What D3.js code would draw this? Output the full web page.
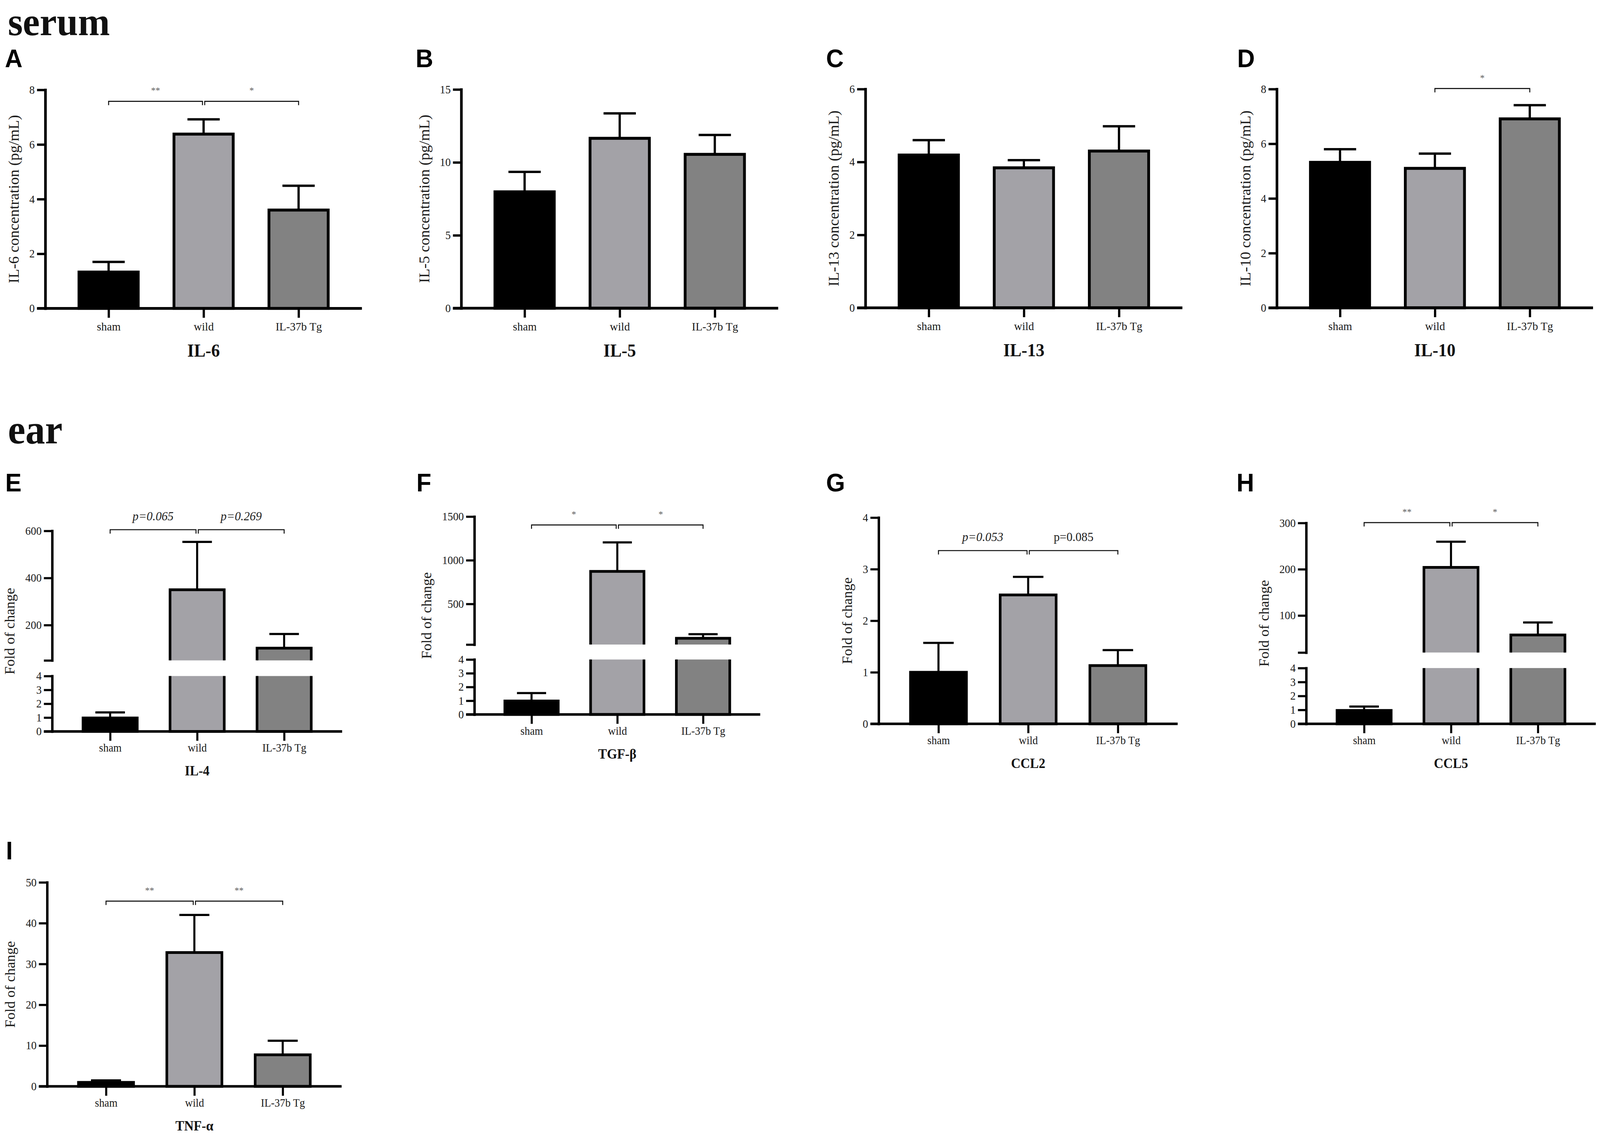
<!DOCTYPE html>
<html>
<head>
<meta charset="utf-8">
<script src="https://cdn.jsdelivr.net/npm/d3@7"></script>
<style>
  html, body { margin: 0; padding: 0; background: #fff; overflow: hidden; }
  svg { display: block; width: 100vw; height: 100vh; font-family: "Liberation Serif", "Times New Roman", serif; }
</style>
</head>
<body>
<div id="fig"></div>
<script>
// groups, same for every panel
const GROUPS = ["sham", "wild", "IL-37b Tg"];

// serum cytokines (pg/mL), mean and SEM
const IL6_MEAN = [1.33, 6.38, 3.60];
const IL6_SEM = [0.37, 0.54, 0.89];
const IL5_MEAN = [7.98, 11.65, 10.55];
const IL5_SEM = [1.37, 1.71, 1.33];
const IL13_MEAN = [4.19, 3.84, 4.30];
const IL13_SEM = [0.41, 0.21, 0.68];
const IL10_MEAN = [5.32, 5.10, 6.91];
const IL10_SEM = [0.48, 0.54, 0.50];

// ear, fold of change
const IL4_MEAN = [0.97, 350, 102];
const IL4_SEM = [0.40, 203, 60];
const TGFB_MEAN = [0.98, 872, 107];
const TGFB_SEM = [0.58, 332, 46];
const CCL2_MEAN = [1.0, 2.50, 1.13];
const CCL2_SEM = [0.57, 0.35, 0.30];
const CCL5_MEAN = [0.96, 204, 58];
const CCL5_SEM = [0.28, 55.5, 27];
const TNFA_MEAN = [0.98, 32.8, 7.74];
const TNFA_SEM = [0.49, 9.2, 3.44];

// tick values (upper segment / lower segment for broken axes)
const IL6_TICKS = [0, 2, 4, 6, 8];
const IL5_TICKS = [0, 5, 10, 15];
const IL13_TICKS = [0, 2, 4, 6];
const IL10_TICKS = [0, 2, 4, 6, 8];
const IL4_TICKS = [200, 400, 600];
const TGFB_TICKS = [500, 1000, 1500];
const CCL2_TICKS = [0, 1, 2, 3, 4];
const CCL5_TICKS = [100, 200, 300];
const TNFA_TICKS = [0, 10, 20, 30, 40, 50];
const LOW_TICKS = [0, 1, 2, 3, 4];

// significance brackets: [from group, to group, label, height in data units]
const IL6_SIG = [[0, 1, "**", 7.58], [1, 2, "*", 7.58]];
const IL10_SIG = [[1, 2, "*", 8.02]];
const IL4_SIG = [[0, 1, "p=0.065", 605], [1, 2, "p=0.269", 605]];
const TGFB_SIG = [[0, 1, "*", 1404], [1, 2, "*", 1404]];
const CCL2_SIG = [[0, 1, "p=0.053", 3.36], [1, 2, "p=0.085", 3.36]];
const CCL5_SIG = [[0, 1, "**", 300.8], [1, 2, "*", 300.8]];
const TNFA_SIG = [[0, 1, "**", 45.4], [1, 2, "**", 45.4]];
const ITALIC_LABELS = ["p=0.065", "p=0.269", "p=0.053"];

const FILLS = ["#000000", "#a3a2a7", "#828282"];

// page layout
const W = 4265, H = 2903;
const ROW_STYLE = {
  1: {tick: 29, cat: 30, ytitle: 39, title: 46, catDy: 57, titleDy: 124, axisW: 7, barSW: 7.5},
  2: {tick: 29, cat: 28.5, ytitle: 37, title: 35, catDy: 52, titleDy: 113, axisW: 6.5, barSW: 7}
};

const PANELS = [
  {id: "A", name: "IL-6", ylab: "IL-6 concentration (pg/mL)", mean: IL6_MEAN, sem: IL6_SEM, ticks: IL6_TICKS, sig: IL6_SIG,
   lay: {row: 1, ox: 120.7, top: 230, zero: 789.5, len: 844, lx: 13, ly: 172}},
  {id: "B", name: "IL-5", ylab: "IL-5 concentration (pg/mL)", mean: IL5_MEAN, sem: IL5_SEM, ticks: IL5_TICKS, sig: [],
   lay: {row: 1, ox: 1229.4, top: 229, zero: 789, len: 845, lx: 1108, ly: 172}},
  {id: "C", name: "IL-13", ylab: "IL-13 concentration (pg/mL)", mean: IL13_MEAN, sem: IL13_SEM, ticks: IL13_TICKS, sig: [],
   lay: {row: 1, ox: 2306.8, top: 228, zero: 788, len: 845, lx: 2202, ly: 172}},
  {id: "D", name: "IL-10", ylab: "IL-10 concentration (pg/mL)", mean: IL10_MEAN, sem: IL10_SEM, ticks: IL10_TICKS, sig: IL10_SIG,
   lay: {row: 1, ox: 3403.4, top: 228, zero: 788, len: 843, lx: 3298, ly: 172}},
  {id: "E", name: "IL-4", ylab: "Fold of change", mean: IL4_MEAN, sem: IL4_SEM, ticks: IL4_TICKS, low: LOW_TICKS, sig: IL4_SIG,
   lay: {row: 2, ox: 139, top: 1359, zero: 1872.4, len: 773, lx: 14, ly: 1258, brk: {lo: 50, ub: 1690.6, lt: 1730.6}}},
  {id: "F", name: "TGF-β", ylab: "Fold of change", mean: TGFB_MEAN, sem: TGFB_SEM, ticks: TGFB_TICKS, low: LOW_TICKS, sig: TGFB_SIG,
   lay: {row: 2, ox: 1264.5, top: 1322.4, zero: 1829, len: 762, lx: 1110, ly: 1258, brk: {lo: 35, ub: 1650, lt: 1688.3}}},
  {id: "G", name: "CCL2", ylab: "Fold of change", mean: CCL2_MEAN, sem: CCL2_SEM, ticks: CCL2_TICKS, sig: CCL2_SIG,
   lay: {row: 2, ox: 2342.2, top: 1325, zero: 1853, len: 797, lx: 2202, ly: 1258}},
  {id: "H", name: "CCL5", ylab: "Fold of change", mean: CCL5_MEAN, sem: CCL5_SEM, ticks: CCL5_TICKS, low: LOW_TICKS, sig: CCL5_SIG,
   lay: {row: 2, ox: 3481.8, top: 1338.8, zero: 1853, len: 772, lx: 3296, ly: 1258, brk: {lo: 20, ub: 1670.4, lt: 1710.2}}},
  {id: "I", name: "TNF-α", ylab: "Fold of change", mean: TNFA_MEAN, sem: TNFA_SEM, ticks: TNFA_TICKS, sig: TNFA_SIG,
   lay: {row: 2, ox: 125.6, top: 2258.8, zero: 2781.1, len: 785, lx: 16, ly: 2200}}
];

// the whole figure is laid out in a 4265 x 2903 frame and stretched to the window
const svg = d3.select("#fig").append("svg")
  .attr("viewBox", `0 0 ${W} ${H}`)
  .attr("preserveAspectRatio", "none");
svg.append("rect").attr("width", W).attr("height", H).attr("fill", "#fff");

// section headers
svg.append("text").attr("x", 21).attr("y", 90).text("serum")
  .attr("font-size", 102).attr("font-weight", "bold").attr("fill", "#111");
svg.append("text").attr("x", 21).attr("y", 1135).text("ear")
  .attr("font-size", 105).attr("font-weight", "bold").attr("fill", "#111");

function styleAxis(ax, st, fs) {
  ax.attr("font-family", null).attr("font-size", null);
  ax.select(".domain").attr("stroke", "#000").attr("stroke-width", st.axisW).attr("stroke-linecap", "square");
  ax.selectAll(".tick line").attr("stroke", "#000").attr("stroke-width", st.axisW - 1);
  ax.selectAll(".tick text").attr("font-size", fs).attr("fill", "#1a1a1a");
}

function drawPanel(p) {
  const L = p.lay, st = ROW_STYLE[L.row];

  svg.append("text").attr("x", L.lx).attr("y", L.ly).text(p.id)
    .attr("font-family", "'Liberation Sans', Arial, sans-serif")
    .attr("font-weight", "bold").attr("font-size", 65).attr("fill", "#000");

  const g = svg.append("g").attr("transform", `translate(${L.ox},0)`);

  const x = d3.scalePoint().domain(GROUPS).range([0, L.len]).padding(2 / 3);
  const barW = 0.196 * L.len;

  let yLow, yUp = null;
  if (L.brk) {
    yLow = d3.scaleLinear().domain([0, d3.max(p.low)]).range([L.zero, L.brk.lt]);
    yUp = d3.scaleLinear().domain([L.brk.lo, d3.max(p.ticks)]).range([L.brk.ub, L.top]);
  } else {
    yLow = d3.scaleLinear().domain([0, d3.max(p.ticks)]).range([L.zero, L.top]);
  }
  const lowMax = yLow.domain()[1];
  const yv = v => (yUp && v > lowMax) ? yUp(v) : yLow(v);

  // y axis
  const yAxes = [];
  const lowAx = g.append("g").attr("class", "yax")
    .call(d3.axisLeft(yLow).tickValues(L.brk ? p.low : p.ticks).tickSize(22).tickSizeOuter(0).tickPadding(6)
      .tickFormat(d => String(d)));
  styleAxis(lowAx, st, st.tick);
  yAxes.push(lowAx);
  if (yUp) {
    const lo = L.brk.lo;
    const upAx = g.append("g").attr("class", "yax")
      .call(d3.axisLeft(yUp).tickValues([lo].concat(p.ticks)).tickSize(22).tickSizeOuter(0).tickPadding(6)
        .tickFormat(d => d === lo ? "" : String(d)));
    styleAxis(upAx, st, st.tick);
    yAxes.push(upAx);
  }

  // bars
  GROUPS.forEach((grp, i) => {
    const v = p.mean[i];
    const cx = x(grp);
    const x0 = cx - barW / 2 + st.barSW / 2, x1 = cx + barW / 2 - st.barSW / 2;
    if (yUp && v > lowMax) {
      // bar split by the axis break: open at the cut on both pieces
      g.append("rect").attr("x", x0).attr("width", x1 - x0)
        .attr("y", yUp(v)).attr("height", L.brk.ub - yUp(v)).attr("fill", FILLS[i]);
      g.append("rect").attr("x", x0).attr("width", x1 - x0)
        .attr("y", yLow(lowMax)).attr("height", yLow(0) - yLow(lowMax)).attr("fill", FILLS[i]);
      g.append("path")
        .attr("d", `M${x0},${L.brk.ub}V${yUp(v)}H${x1}V${L.brk.ub}`)
        .attr("fill", "none").attr("stroke", "#000").attr("stroke-width", st.barSW);
      g.append("path")
        .attr("d", `M${x0},${yLow(lowMax)}V${yLow(0)}H${x1}V${yLow(lowMax)}`)
        .attr("fill", "none").attr("stroke", "#000").attr("stroke-width", st.barSW);
    } else {
      g.append("rect").attr("x", x0).attr("width", x1 - x0)
        .attr("y", yLow(v)).attr("height", yLow(0) - yLow(v))
        .attr("fill", FILLS[i]).attr("stroke", "#000").attr("stroke-width", st.barSW);
    }
    // error bar (upper only)
    const top = yv(v + p.sem[i]);
    const capW = barW * 0.52;
    g.append("line").attr("x1", cx).attr("x2", cx).attr("y1", yv(v)).attr("y2", top)
      .attr("stroke", "#000").attr("stroke-width", st.axisW - 1);
    g.append("line").attr("x1", cx - capW / 2).attr("x2", cx + capW / 2).attr("y1", top).attr("y2", top)
      .attr("stroke", "#000").attr("stroke-width", st.axisW - 1);
  });

  // x axis
  const xAx = g.append("g").attr("transform", `translate(0,${L.zero})`)
    .call(d3.axisBottom(x).tickSize(24).tickSizeOuter(0));
  xAx.select(".domain").remove();
  styleAxis(xAx, st, st.cat);
  xAx.selectAll(".tick text").attr("y", st.catDy).attr("dy", 0);
  xAx.append("line").attr("x1", -22).attr("x2", L.len).attr("y1", 0).attr("y2", 0)
    .attr("stroke", "#000").attr("stroke-width", st.axisW);

  // panel title under the axis
  g.append("text").attr("x", x("wild")).attr("y", L.zero + st.titleDy)
    .attr("text-anchor", "middle").attr("font-weight", "bold").attr("font-size", st.title)
    .attr("fill", "#111").text(p.name);

  // y axis title, left of the widest tick label
  let maxW = 0;
  yAxes.forEach(ax => ax.selectAll(".tick text").each(function () {
    maxW = Math.max(maxW, this.getComputedTextLength());
  }));
  const tcx = -(22 + 6 + maxW + 38) + 0.25 * st.ytitle;
  const tcy = (L.top + L.zero) / 2;
  g.append("text").attr("transform", `translate(${tcx},${tcy}) rotate(-90)`)
    .attr("text-anchor", "middle").attr("font-size", st.ytitle).attr("fill", "#1a1a1a")
    .text(p.ylab);

  // significance brackets
  const shared = p.sig.length > 1;
  p.sig.forEach((b, k) => {
    const [a, c, label, h] = b;
    const by = yv(h);
    let xa = x(GROUPS[a]), xc = x(GROUPS[c]);
    if (shared && k === 0) xc -= 3;
    if (shared && k === 1) xa += 3;
    g.append("path").attr("d", `M${xa},${by + 10}V${by}H${xc}V${by + 10}`)
      .attr("fill", "none").attr("stroke", "#111").attr("stroke-width", 2.6);
    const isP = label.startsWith("p");
    g.append("text").attr("x", (xa + xc) / 2).attr("y", isP ? by - 24 : by - 20)
      .attr("text-anchor", "middle")
      .attr("font-size", isP ? 32 : 24)
      .attr("font-style", ITALIC_LABELS.includes(label) ? "italic" : "normal")
      .attr("fill", isP ? "#222" : "#5a5a5a")
      .text(label);
  });
}

PANELS.forEach(drawPanel);
</script>
</body>
</html>
